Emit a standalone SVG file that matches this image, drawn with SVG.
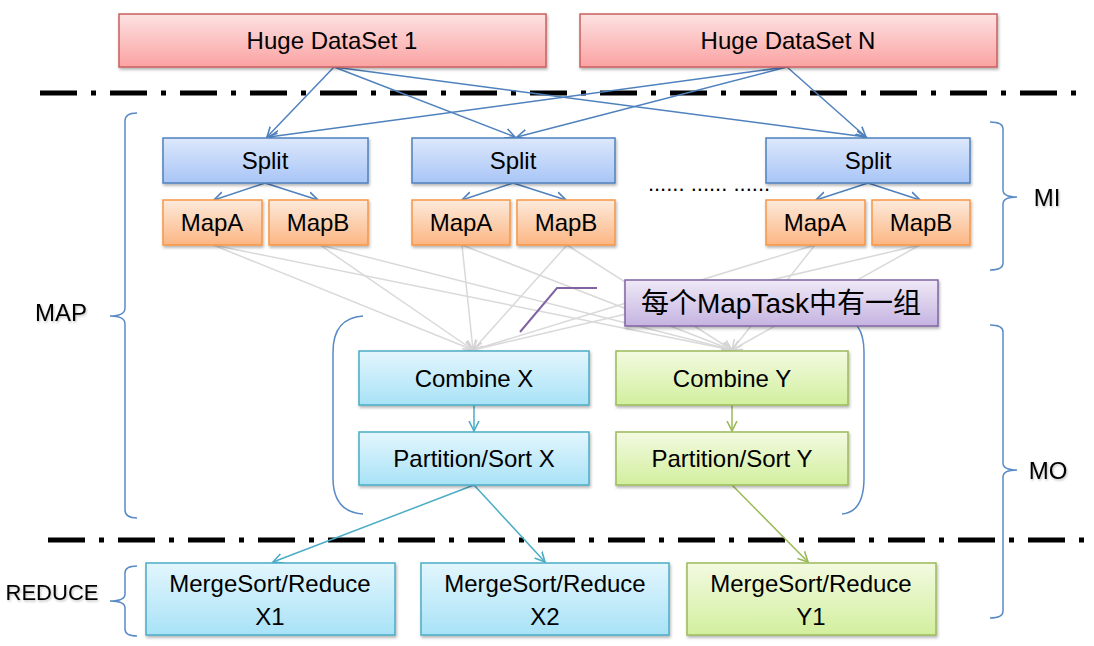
<svg xmlns="http://www.w3.org/2000/svg" width="1094" height="646" viewBox="0 0 1094 646">
<defs>
<linearGradient id="gRed" x1="0" y1="0" x2="0" y2="1"><stop offset="0" stop-color="#fde2e2"/><stop offset="1" stop-color="#fba2a2"/></linearGradient>
<linearGradient id="gBlue" x1="0" y1="0" x2="0" y2="1"><stop offset="0" stop-color="#dde8fc"/><stop offset="1" stop-color="#a8c5f6"/></linearGradient>
<linearGradient id="gOrange" x1="0" y1="0" x2="0" y2="1"><stop offset="0" stop-color="#fdeadc"/><stop offset="1" stop-color="#fcb683"/></linearGradient>
<linearGradient id="gCyan" x1="0" y1="0" x2="0" y2="1"><stop offset="0" stop-color="#e3f6fd"/><stop offset="1" stop-color="#a8e2f7"/></linearGradient>
<linearGradient id="gGreen" x1="0" y1="0" x2="0" y2="1"><stop offset="0" stop-color="#f3fae1"/><stop offset="1" stop-color="#d2ef9e"/></linearGradient>
<linearGradient id="gPurple" x1="0" y1="0" x2="0" y2="1"><stop offset="0" stop-color="#efe9f6"/><stop offset="1" stop-color="#c5b3e1"/></linearGradient>
<filter id="sh" x="-10%" y="-20%" width="120%" height="150%"><feDropShadow dx="1" dy="2" stdDeviation="1.5" flood-color="#000" flood-opacity="0.3"/></filter>
<filter id="tsh" x="-10%" y="-20%" width="130%" height="150%"><feDropShadow dx="1" dy="1.5" stdDeviation="1" flood-color="#000" flood-opacity="0.25"/></filter>
<marker id="aBlue" markerWidth="12" markerHeight="12" refX="10" refY="5" orient="auto" markerUnits="userSpaceOnUse" viewBox="0 0 12 10"><path d="M0,0 L10,5 L0,10" fill="none" stroke="#4f81bd" stroke-width="1.6"/></marker>
<marker id="aGray" markerWidth="12" markerHeight="12" refX="10" refY="5" orient="auto" markerUnits="userSpaceOnUse" viewBox="0 0 12 10"><path d="M0,0 L10,5 L0,10" fill="none" stroke="#d4d4d4" stroke-width="1.6"/></marker>
<marker id="aCyan" markerWidth="12" markerHeight="12" refX="10" refY="5" orient="auto" markerUnits="userSpaceOnUse" viewBox="0 0 12 10"><path d="M0,0 L10,5 L0,10" fill="none" stroke="#4bacc6" stroke-width="1.6"/></marker>
<marker id="aGreen" markerWidth="12" markerHeight="12" refX="10" refY="5" orient="auto" markerUnits="userSpaceOnUse" viewBox="0 0 12 10"><path d="M0,0 L10,5 L0,10" fill="none" stroke="#9bbb59" stroke-width="1.6"/></marker>
</defs>
<style>
text{font-family:"Liberation Sans","Noto Sans CJK SC",sans-serif;fill:#000;text-anchor:middle}
.t24{font-size:24px}
.lbl{font-size:24px;filter:url(#tsh)}
.red{fill:url(#gRed);stroke:#c9605e;stroke-width:1.5;filter:url(#sh)}
.blue{fill:url(#gBlue);stroke:#4f81bd;stroke-width:1.5;filter:url(#sh)}
.orange{fill:url(#gOrange);stroke:#f79646;stroke-width:1.5;filter:url(#sh)}
.cyan{fill:url(#gCyan);stroke:#4bacc6;stroke-width:1.5;filter:url(#sh)}
.green{fill:url(#gGreen);stroke:#9bbb59;stroke-width:1.5;filter:url(#sh)}
.purple{fill:url(#gPurple);stroke:#8064a2;stroke-width:1.5;filter:url(#sh)}
.dash{stroke:#000;stroke-width:5;stroke-dasharray:37 14 5 14;fill:none}
.brace{fill:none;stroke:#5a8ac6;stroke-width:1.5}
.cb{stroke:#4f81bd;stroke-width:1.5;fill:none;marker-end:url(#aBlue)}
.cg{stroke:#d9d9d9;stroke-width:1.5;fill:none;marker-end:url(#aGray)}
.cc{stroke:#4bacc6;stroke-width:1.5;fill:none;marker-end:url(#aCyan)}
.cn{stroke:#9bbb59;stroke-width:1.5;fill:none;marker-end:url(#aGreen)}
</style>
<rect width="1094" height="646" fill="#fff"/>

<g id="separators">
<line class="dash" x1="40" y1="93" x2="1085" y2="93"/>
<line class="dash" x1="48" y1="540" x2="1085" y2="540"/>
</g>

<g id="brackets">
<path class="brace" d="M137,113 Q125,113 125,121 L125,308 Q125,316 110,316 Q125,316 125,324 L125,510 Q125,518 137,518"/>
<path class="brace" d="M137,566 Q125,566 125,573 L125,594 Q125,601 110,601 Q125,601 125,608 L125,629 Q125,636 137,636"/>
<path class="brace" d="M990,122 Q1003,122 1003,129 L1003,190 Q1003,197 1017,197 Q1003,197 1003,204 L1003,263 Q1003,270 990,270"/>
<path class="brace" d="M990,325 Q1003,325 1003,332 L1003,463 Q1003,470 1017,470 Q1003,470 1003,477 L1003,611 Q1003,618 990,618"/>
<path class="brace" d="M363,316 Q333,318 333,352 L333,478 Q333,512 363,514"/>
<path class="brace" d="M840,316 Q864,320 864,352 L864,478 Q864,512 842,514"/>
</g>

<g id="labels">
<text class="lbl" x="61" y="321">MAP</text>
<text class="lbl" x="52" y="600" style="font-size:22px">REDUCE</text>
<text class="lbl" x="1047" y="206">MI</text>
<text class="lbl" x="1048" y="479">MO</text>
<text x="709" y="191" style="font-size:22px">...... ...... ......</text>
</g>

<g id="connectors">
<line class="cg" x1="213" y1="245" x2="473" y2="350"/>
<line class="cg" x1="320" y1="245" x2="473" y2="350"/>
<line class="cg" x1="462" y1="245" x2="473" y2="350"/>
<line class="cg" x1="567" y1="245" x2="473" y2="350"/>
<line class="cg" x1="815" y1="245" x2="473" y2="350"/>
<line class="cg" x1="920" y1="245" x2="473" y2="350"/>
<line class="cg" x1="213" y1="245" x2="732" y2="350"/>
<line class="cg" x1="320" y1="245" x2="732" y2="350"/>
<line class="cg" x1="462" y1="245" x2="732" y2="350"/>
<line class="cg" x1="567" y1="245" x2="732" y2="350"/>
<line class="cg" x1="815" y1="245" x2="732" y2="350"/>
<line class="cg" x1="920" y1="245" x2="732" y2="350"/>
<line class="cb" x1="334" y1="67" x2="267" y2="137"/>
<line class="cb" x1="334" y1="67" x2="515" y2="137"/>
<line class="cb" x1="334" y1="67" x2="866" y2="137"/>
<line class="cb" x1="787" y1="67" x2="269" y2="137"/>
<line class="cb" x1="787" y1="67" x2="517" y2="137"/>
<line class="cb" x1="787" y1="67" x2="866" y2="137"/>
<line class="cb" x1="265" y1="183" x2="214" y2="200"/>
<line class="cb" x1="265" y1="183" x2="318" y2="200"/>
<line class="cb" x1="513" y1="183" x2="462" y2="200"/>
<line class="cb" x1="513" y1="183" x2="566" y2="200"/>
<line class="cb" x1="868" y1="183" x2="816" y2="200"/>
<line class="cb" x1="868" y1="183" x2="920" y2="200"/>
<line class="cc" x1="474" y1="405" x2="474" y2="431"/>
<line class="cn" x1="732" y1="405" x2="732" y2="431"/>
<line class="cc" x1="474" y1="485" x2="273" y2="562"/>
<line class="cc" x1="474" y1="485" x2="545" y2="562"/>
<line class="cn" x1="732" y1="485" x2="808" y2="562"/>
<polyline points="597,288 557,288 520,332" fill="none" stroke="#8064a2" stroke-width="2"/>
</g>

<g id="ds1"><rect class="red" x="119" y="14" width="427" height="53"/><text class="t24" x="332" y="49">Huge DataSet 1</text></g>
<g id="dsN"><rect class="red" x="580" y="14" width="417" height="53"/><text class="t24" x="788" y="49">Huge DataSet N</text></g>

<g id="split1"><rect class="blue" x="163" y="138" width="205" height="45"/><text class="t24" x="265" y="169">Split</text></g>
<g id="split2"><rect class="blue" x="412" y="138" width="203" height="45"/><text class="t24" x="513" y="169">Split</text></g>
<g id="split3"><rect class="blue" x="766" y="138" width="204" height="45"/><text class="t24" x="868" y="169">Split</text></g>

<g id="mapA1"><rect class="orange" x="163" y="200" width="99" height="45"/><text class="t24" x="212" y="231">MapA</text></g>
<g id="mapB1"><rect class="orange" x="269" y="200" width="99" height="45"/><text class="t24" x="318" y="231">MapB</text></g>
<g id="mapA2"><rect class="orange" x="412" y="200" width="98" height="45"/><text class="t24" x="461" y="231">MapA</text></g>
<g id="mapB2"><rect class="orange" x="517" y="200" width="98" height="45"/><text class="t24" x="566" y="231">MapB</text></g>
<g id="mapA3"><rect class="orange" x="766" y="200" width="99" height="45"/><text class="t24" x="815" y="231">MapA</text></g>
<g id="mapB3"><rect class="orange" x="872" y="200" width="98" height="45"/><text class="t24" x="921" y="231">MapB</text></g>

<g id="note"><rect class="purple" x="625" y="280" width="313" height="46"/><text x="781" y="313" style="font-size:28px">每个MapTask中有一组</text></g>

<g id="combineX"><rect class="cyan" x="359" y="351" width="230" height="54"/><text class="t24" x="474" y="387">Combine X</text></g>
<g id="combineY"><rect class="green" x="616" y="351" width="232" height="54"/><text class="t24" x="732" y="387">Combine Y</text></g>
<g id="partX"><rect class="cyan" x="359" y="432" width="230" height="53"/><text class="t24" x="474" y="467">Partition/Sort X</text></g>
<g id="partY"><rect class="green" x="616" y="432" width="232" height="53"/><text class="t24" x="732" y="467">Partition/Sort Y</text></g>

<g id="reduceX1"><rect class="cyan" x="146" y="563" width="249" height="72"/><text class="t24" x="270" y="592">MergeSort/Reduce</text><text class="t24" x="270" y="625">X1</text></g>
<g id="reduceX2"><rect class="cyan" x="421" y="563" width="248" height="72"/><text class="t24" x="545" y="592">MergeSort/Reduce</text><text class="t24" x="545" y="625">X2</text></g>
<g id="reduceY1"><rect class="green" x="687" y="563" width="249" height="72"/><text class="t24" x="811" y="592">MergeSort/Reduce</text><text class="t24" x="811" y="625">Y1</text></g>
</svg>
